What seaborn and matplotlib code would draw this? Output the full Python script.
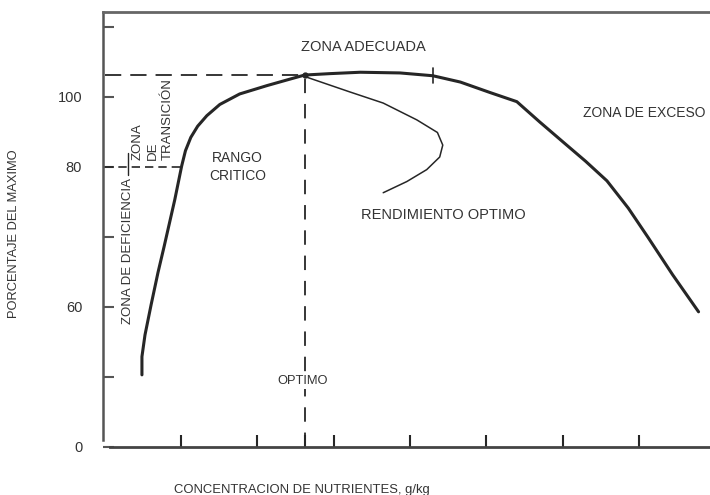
import matplotlib
matplotlib.use('Agg')
import numpy as np
import pandas as pd
import matplotlib.pyplot as plt
import seaborn as sns

# ===============================
# datos (unidades = marcas de los ejes)
# ===============================
curva_x = [0.49, 0.49, 0.53, 0.61, 0.70, 0.78, 0.92, 1.01, 1.06, 1.13, 1.22, 1.34, 1.51,
           1.77, 2.13, 2.39, 2.62, 2.95, 3.35, 3.87, 4.30, 4.66, 5.05, 5.40, 5.70, 6.01,
           6.30, 6.58, 6.86, 7.12, 7.44, 7.78]
curva_y = [1.03, 1.29, 1.60, 2.03, 2.49, 2.86, 3.53, 4.01, 4.23, 4.42, 4.58, 4.73, 4.89,
           5.04, 5.16, 5.24, 5.31, 5.33, 5.35, 5.34, 5.30, 5.21, 5.06, 4.93, 4.64, 4.35,
           4.08, 3.80, 3.41, 2.99, 2.46, 1.93]

rend_x = [2.62, 3.21, 3.65, 4.09, 4.36, 4.43, 4.39, 4.22, 3.96, 3.65]
rend_y = [5.29, 5.07, 4.91, 4.67, 4.49, 4.31, 4.14, 3.96, 3.79, 3.63]

optimo_x = 2.62
optimo_y = 5.31
critico_x = 1.01
critico_y = 4.00
marca_x = 4.30

x_ticks = [1, 2, optimo_x, 3, 4, 5, 6, 7]
y_ticks = [0, 1, 2, 3, 4, 5, 6]
y_labels = ["0", "", "60", "", "80", "100", ""]

sns.set_theme(style="white")
plt.rcParams['font.family'] = ['Liberation Sans', 'DejaVu Sans']

fig = plt.figure(figsize=(7.1, 4.95), dpi=100)
ax = fig.add_axes([103 / 710, 48 / 495, 607 / 710, 435 / 495])

tinta = "#262626"
texto = "#333333"

df_curva = pd.DataFrame({"x": curva_x, "y": curva_y})
df_rend = pd.DataFrame({"x": rend_x, "y": rend_y})
sns.lineplot(data=df_curva, x="x", y="y", sort=False, estimator=None, color=tinta,
             lw=2.2, ax=ax, solid_joinstyle='round', solid_capstyle='round')
sns.lineplot(data=df_rend, x="x", y="y", sort=False, estimator=None, color=tinta,
             lw=1.1, ax=ax, solid_joinstyle='round')

# lineas de referencia
ax.plot([0, optimo_x], [optimo_y, optimo_y], color=tinta, lw=1.3, ls=(0, (9, 5)))
ax.plot([optimo_x, optimo_x], [0, optimo_y], color=tinta, lw=1.3, ls=(0, (8, 6)))
ax.plot([0, critico_x], [critico_y, critico_y], color=tinta, lw=1.2, ls=(0, (5, 3)))
ax.plot([optimo_x], [optimo_y], 'o', color=tinta, ms=3.5)
ax.plot([marca_x, marca_x], [optimo_y - 0.12, optimo_y + 0.1], color=tinta, lw=1.2)
ax.plot([0.31, 0.31], [3.88, 4.2], color=tinta, lw=1.0)

# textos
ax.text(3.39, 5.71, "ZONA ADECUADA", ha='center', va='center', fontsize=10.5, color=texto)
ax.text(6.27, 4.77, "ZONA DE EXCESO", ha='left', va='center', fontsize=10, color=texto)
ax.text(4.44, 3.31, "RENDIMIENTO OPTIMO", ha='center', va='center', fontsize=10.5, color=texto)
ax.text(1.74, 4.0, "RANGO\nCRITICO", ha='center', va='center', fontsize=10,
        linespacing=1.35, color=texto)
ax.text(2.59, 0.94, "OPTIMO", ha='center', va='center', fontsize=9.3, color=texto,
        bbox=dict(facecolor='white', edgecolor='none', pad=1.5))
ax.text(0.31, 2.8, "ZONA DE DEFICIENCIA", rotation=90, ha='center', va='center',
        fontsize=9.5, color=texto)
ax.text(0.63, 4.1, "ZONA\nDE\nTRANSICIÓN", rotation=90, ha='center', va='bottom',
        multialignment='left', fontsize=9.5, linespacing=1.36, color=texto)

# ejes
ax.set_xlim(-0.02, 7.93)
ax.set_ylim(0, 6.21)
ax.set_xticks(x_ticks)
ax.set_xticklabels([])
ax.set_yticks(y_ticks)
ax.set_yticklabels(y_labels, fontsize=10.5, color=texto)
ax.tick_params(axis='x', bottom=True, direction='in', length=9, width=1.5, color=tinta)
ax.tick_params(axis='y', left=True, direction='in', length=8, width=1.5, color="#555555", pad=15)

ax.set_xlabel("CONCENTRACION DE NUTRIENTES, g/kg", fontsize=9.4, color=texto)
ax.set_ylabel("PORCENTAJE DEL MAXIMO", fontsize=9.3, color=texto)
ax.xaxis.set_label_coords(0.328, -0.085)
ax.yaxis.set_label_coords(-0.137, 0.49)

ax.spines['right'].set_visible(False)
ax.spines['top'].set_color("#666666")
ax.spines['top'].set_linewidth(2)
ax.spines['left'].set_color("#555555")
ax.spines['left'].set_linewidth(1.8)
ax.spines['left'].set_bounds(0.1, 6.21)
ax.spines['bottom'].set_color("#444444")
ax.spines['bottom'].set_linewidth(2)
ax.spines['bottom'].set_bounds(0.07, 7.93)
ax.grid(False)

fig.savefig("out.png", dpi=100)
